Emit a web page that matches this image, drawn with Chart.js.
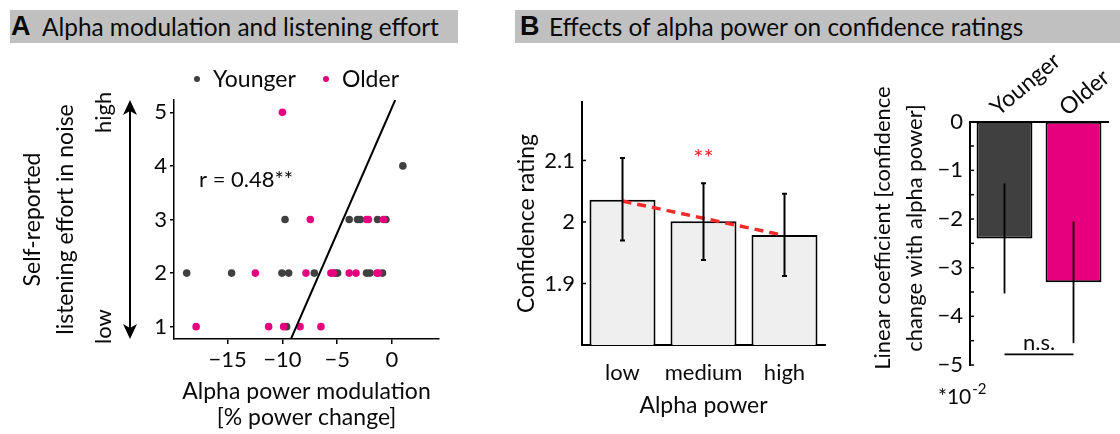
<!DOCTYPE html>
<html><head><meta charset="utf-8">
<script src="https://cdn.jsdelivr.net/npm/chart.js@4.4.1/dist/chart.umd.min.js"></script>
<style>
html,body{margin:0;padding:0;background:#fff;width:1120px;height:434px;overflow:hidden;font-family:Lato,sans-serif;}
.hdr{position:absolute;top:10px;height:33px;background:#c0c0c0;color:#0a0a0a;font-size:24.4px;line-height:33px;white-space:nowrap;overflow:hidden;z-index:2;}
.hdr span{position:absolute;top:0;}
.hdr .l{font-weight:bold;font-size:27px;font-family:Arial,'Liberation Sans',sans-serif;}
canvas{position:absolute;top:0;}
</style></head>
<body>
<div class="hdr" style="left:10px;width:448px;"><span class="l" style="left:1px">A</span><span style="left:32px">Alpha modulation and listening effort</span></div>
<div class="hdr" style="left:515px;width:605px;"><span class="l" style="left:5px">B</span><span style="left:34px">Effects of alpha power on confidence ratings</span></div>
<canvas id="c1" width="460" height="434" style="left:0px;width:460px;height:434px"></canvas>
<canvas id="c2" width="360" height="434" style="left:480px;width:360px;height:434px"></canvas>
<canvas id="c3" width="270" height="434" style="left:850px;width:270px;height:434px"></canvas>
<script>
// ---------- Panel A data ----------
const youngX = [1.0, -9.76, -3.90, -3.14, -2.89, -1.31, -0.55, -18.74, -14.64, -10.04, -9.43, -7.09, -5.17, -4.96, -2.32, -2.01, -0.86, -9.62];
const youngY = [4, 3, 3, 3, 3, 3, 3, 2, 2, 2, 2, 2, 2, 2, 2, 2, 2, 1];
const oldX = [-10.0, -7.45, -2.32, -2.14, -0.77, -12.47, -7.85, -5.57, -5.36, -3.90, -3.28, -1.37, -1.22, -17.88, -11.26, -9.89, -8.39, -6.48];
const oldY = [5, 3, 3, 3, 3, 2, 2, 2, 2, 2, 2, 2, 2, 1, 1, 1, 1, 1];
const fitX = [-9.22, 0.30];
const fitY = [0.77, 5.23];
const scatterXTicks = [-15, -10, -5, 0];
const scatterYTicks = [1, 2, 3, 4, 5];
const seriesNames = ['Younger', 'Older'];

// ---------- Panel B left data ----------
const levels = ['low', 'medium', 'high'];
const confMean = [2.036, 2.001, 1.979];
const confLow = [1.970, 1.938, 1.912];
const confHigh = [2.104, 2.063, 2.046];
const confTrend = [2.034, 2.006, 1.978];
const confTicks = [1.9, 2, 2.1];

// ---------- Panel B right data ----------
const groups = ['Younger', 'Older'];
const coefMean = [-2.40, -3.30];
const coefLow = [-3.53, -4.55];
const coefHigh = [-1.27, -2.05];
const coefTicks = [0, -0.5, -1, -1.5, -2, -2.5, -3, -3.5, -4, -4.5, -5];

const GRAY = '#404040', PINK = '#e6007e', INK = '#0a0a0a';
Chart.defaults.font.family = 'Lato, sans-serif';
Chart.defaults.color = INK;
const minus = v => (v < 0 ? '\u2212' + Math.abs(v) : String(v));
const setTicks = arr => s => { s.ticks = arr.map(v => ({ value: v })); };
const zeroPad = s => { s.paddingLeft = 0; s.paddingRight = 0; s.paddingTop = 0; s.paddingBottom = 0; };

function inwardTicks(chart, id, len) {
  const s = chart.scales[id], ctx = chart.ctx;
  ctx.save(); ctx.strokeStyle = '#000'; ctx.lineWidth = 1.5;
  s.ticks.forEach(t => { const p = s.getPixelForValue(t.value); ctx.beginPath(); ctx.moveTo(s.right, p); ctx.lineTo(s.right + len, p); ctx.stroke(); });
  ctx.restore();
}

// ---------- Panel A ----------
const scatterExtras = {
  id: 'scatterExtras',
  afterDraw(chart) {
    const { ctx, scales: { x, y } } = chart;
    ctx.save();
    const ax = 130, top = y.top, bot = y.bottom;
    ctx.strokeStyle = '#000'; ctx.fillStyle = '#000'; ctx.lineWidth = 2;
    ctx.beginPath(); ctx.moveTo(ax, top + 8); ctx.lineTo(ax, bot - 8); ctx.stroke();
    ctx.beginPath(); ctx.moveTo(ax, top); ctx.lineTo(ax - 7, top + 15); ctx.lineTo(ax, top + 11); ctx.lineTo(ax + 7, top + 15); ctx.closePath(); ctx.fill();
    ctx.beginPath(); ctx.moveTo(ax, bot); ctx.lineTo(ax - 7, bot - 15); ctx.lineTo(ax, bot - 11); ctx.lineTo(ax + 7, bot - 15); ctx.closePath(); ctx.fill();
    ctx.fillStyle = INK; ctx.font = '22px Lato'; ctx.textAlign = 'center'; ctx.textBaseline = 'middle';
    [['high', 5], ['low', 1]].forEach(([t, v]) => {
      ctx.save(); ctx.translate(104, y.getPixelForValue(v)); ctx.rotate(-Math.PI / 2); ctx.fillText(t, 0, 0); ctx.restore();
    });
    ctx.textAlign = 'left'; ctx.textBaseline = 'alphabetic'; ctx.font = '23px Lato';
    const lx = [197, 326];
    chart.data.datasets.slice(0, 2).forEach((ds, i) => {
      ctx.fillStyle = ds.backgroundColor; ctx.beginPath(); ctx.arc(lx[i], 79, 3, 0, Math.PI * 2); ctx.fill();
      ctx.fillStyle = INK; ctx.fillText(ds.label, lx[i] + 16, 87);
    });
    ctx.font = '22px Lato'; ctx.fillStyle = INK;
    ctx.fillText('r = 0.48**', 199, 187);
    ctx.restore();
  }
};

new Chart(document.getElementById('c1'), {
  type: 'scatter',
  data: {
    datasets: [
      { label: seriesNames[0], data: youngX.map((v, i) => ({ x: v, y: youngY[i] })), backgroundColor: GRAY, borderWidth: 0, pointRadius: 3.8, order: 2 },
      { label: seriesNames[1], data: oldX.map((v, i) => ({ x: v, y: oldY[i] })), backgroundColor: PINK, borderWidth: 0, pointRadius: 3.8, order: 1 },
      { label: 'fit', data: fitX.map((v, i) => ({ x: v, y: fitY[i] })), showLine: true, borderColor: '#000', borderWidth: 2, pointRadius: 0, order: 0 }
    ]
  },
  options: {
    responsive: false, animation: false, devicePixelRatio: 1,
    layout: { padding: { top: 100, right: 21, left: 0, bottom: 0 } },
    plugins: { legend: { display: false }, tooltip: { enabled: false } },
    scales: {
      x: {
        type: 'linear', min: -19.9, max: 4.3, afterBuildTicks: setTicks(scatterXTicks),
        ticks: { callback: v => minus(v), font: { size: 22 }, padding: 3, color: INK },
        grid: { display: true, drawOnChartArea: false, drawTicks: true, tickLength: 5, color: '#000', lineWidth: 1.5 },
        border: { color: '#000', width: 1.5 },
        title: { display: true, text: ['Alpha power modulation', '[% power change]'], font: { size: 23, lineHeight: 1.1 }, padding: { top: 0, bottom: 4 }, color: INK },
        afterFit: s => { s.height = 95; zeroPad(s); }
      },
      y: {
        type: 'linear', min: 0.77, max: 5.23, afterBuildTicks: setTicks(scatterYTicks),
        ticks: { callback: v => minus(v), font: { size: 22 }, padding: 3, color: INK },
        grid: { display: true, drawOnChartArea: false, drawTicks: true, tickLength: 4, color: '#000', lineWidth: 1.5 },
        border: { color: '#000', width: 1.5 },
        title: { display: true, text: ['Self-reported', 'listening effort in noise'], font: { size: 23, lineHeight: 1.43 }, padding: { top: 16, bottom: 0 }, color: INK },
        afterFit: s => { s.width = 174; zeroPad(s); }
      }
    }
  },
  plugins: [scatterExtras]
});

// ---------- Panel B left ----------
const confExtras = {
  id: 'confExtras',
  afterDatasetsDraw(chart) {
    const { ctx, scales: { x, y } } = chart;
    ctx.save(); ctx.strokeStyle = '#000'; ctx.lineWidth = 2;
    levels.forEach((l, i) => {
      const px = x.getPixelForValue(i), a = y.getPixelForValue(confLow[i]), b = y.getPixelForValue(confHigh[i]);
      ctx.beginPath(); ctx.moveTo(px, a); ctx.lineTo(px, b);
      ctx.moveTo(px - 2.5, a); ctx.lineTo(px + 2.5, a); ctx.moveTo(px - 2.5, b); ctx.lineTo(px + 2.5, b); ctx.stroke();
    });
    ctx.fillStyle = '#ee2a24'; ctx.font = '24px Lato'; ctx.textAlign = 'center'; ctx.textBaseline = 'middle';
    ctx.fillText('**', x.getPixelForValue(1), y.getPixelForValue(2.104));
    ctx.restore();
    inwardTicks(chart, 'y', 4);
  }
};

new Chart(document.getElementById('c2'), {
  type: 'bar',
  data: {
    labels: levels,
    datasets: [
      { type: 'line', data: confTrend, borderColor: '#f42a2a', borderWidth: 3.5, borderDash: [9, 6], pointRadius: 0, order: 0 },
      { data: confMean, backgroundColor: '#eeefee', borderColor: '#000', borderWidth: 2, borderSkipped: false, categoryPercentage: 1, barPercentage: 0.815, order: 1 }
    ]
  },
  options: {
    responsive: false, animation: false, devicePixelRatio: 1,
    layout: { padding: { top: 102, right: 15, left: 0, bottom: 0 } },
    plugins: { legend: { display: false }, tooltip: { enabled: false } },
    scales: {
      x: {
        ticks: { font: { size: 22 }, padding: 7, color: INK, autoSkip: false, minRotation: 0, maxRotation: 0 },
        grid: { display: false },
        border: { color: '#000', width: 2 },
        title: { display: true, text: 'Alpha power', font: { size: 23 }, padding: { top: 0, bottom: 15 }, color: INK },
        afterFit: s => { s.height = 89; zeroPad(s); }
      },
      y: {
        min: 1.8, max: 2.195, afterBuildTicks: setTicks(confTicks),
        ticks: { callback: v => String(v), font: { size: 22 }, padding: 7, color: INK },
        grid: { display: false, drawTicks: false },
        border: { color: '#000', width: 2 },
        title: { display: true, text: 'Confidence rating', font: { size: 23 }, padding: { top: 33, bottom: 0 }, color: INK },
        afterFit: s => { s.width = 102; zeroPad(s); }
      }
    }
  },
  plugins: [confExtras]
});

// ---------- Panel B right ----------
const coefExtras = {
  id: 'coefExtras',
  afterDatasetsDraw(chart) {
    const { ctx, scales: { x, y } } = chart;
    ctx.save(); ctx.strokeStyle = '#000'; ctx.lineWidth = 1.8;
    groups.forEach((g, i) => {
      const px = x.getPixelForValue(i);
      ctx.beginPath(); ctx.moveTo(px, y.getPixelForValue(coefLow[i])); ctx.lineTo(px, y.getPixelForValue(coefHigh[i])); ctx.stroke();
    });
    const ny = y.getPixelForValue(-4.78);
    ctx.beginPath(); ctx.moveTo(x.getPixelForValue(0), ny); ctx.lineTo(x.getPixelForValue(1), ny); ctx.stroke();
    ctx.fillStyle = INK; ctx.font = '22px Lato'; ctx.textAlign = 'center'; ctx.textBaseline = 'alphabetic';
    ctx.fillText('n.s.', (x.getPixelForValue(0) + x.getPixelForValue(1)) / 2, ny - 4);
    ctx.textAlign = 'left'; ctx.font = '21px Lato';
    ctx.fillText('*10', 88, 404);
    const w = ctx.measureText('*10').width;
    ctx.font = '15px Lato'; ctx.fillText('-2', 88 + w + 1, 394);
    // rotated category labels above the zero line
    ctx.font = '23px Lato'; ctx.textAlign = 'left'; ctx.textBaseline = 'alphabetic';
    x.getLabels().forEach((lab, i) => {
      ctx.save(); ctx.translate(x.getPixelForValue(i) - 6, y.top - 5); ctx.rotate(-40 * Math.PI / 180);
      ctx.fillText(lab, 0, 0); ctx.restore();
    });
    // y title
    ctx.font = '22px Lato'; ctx.textAlign = 'center'; ctx.textBaseline = 'middle';
    ctx.save(); ctx.translate(33, 228); ctx.rotate(-Math.PI / 2);
    ctx.fillText('Linear coefficient [confidence', 0, 0);
    ctx.fillText('change with alpha power]', 0, 32);
    ctx.restore();
    ctx.restore();
    inwardTicks(chart, 'y', 4);
  }
};

new Chart(document.getElementById('c3'), {
  type: 'bar',
  data: {
    labels: groups,
    datasets: [{ data: coefMean, backgroundColor: [GRAY, PINK], borderColor: '#000', borderWidth: 2, borderSkipped: false, categoryPercentage: 1, barPercentage: 0.81 }]
  },
  options: {
    responsive: false, animation: false, devicePixelRatio: 1,
    layout: { padding: { top: 0, right: 12, left: 0, bottom: 69 } },
    plugins: { legend: { display: false }, tooltip: { enabled: false } },
    scales: {
      x: {
        position: 'top',
        ticks: { display: false },
        grid: { display: false },
        border: { color: '#000', width: 2 },
        afterFit: s => { s.height = 121.7; zeroPad(s); }
      },
      y: {
        min: -5, max: 0, afterBuildTicks: setTicks(coefTicks),
        ticks: { autoSkip: false, callback: v => (Number.isInteger(v) ? minus(v) : ''), font: { size: 22 }, padding: 7, color: INK },
        grid: { display: false, drawTicks: false },
        border: { color: '#000', width: 2 },
        afterFit: s => { s.width = 120; zeroPad(s); }
      }
    }
  },
  plugins: [coefExtras]
});
</script>
</body></html>
